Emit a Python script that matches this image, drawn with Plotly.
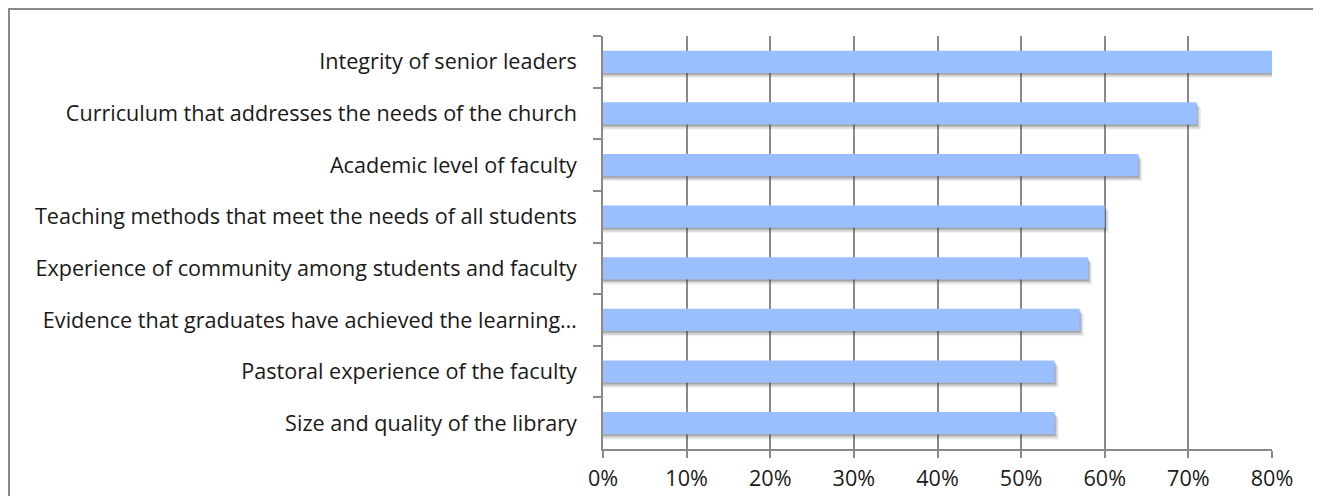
import plotly.graph_objects as go

categories = [
    "Integrity of senior leaders",
    "Curriculum that addresses the needs of the church",
    "Academic level of faculty",
    "Teaching methods that meet the needs of all students",
    "Experience of community among students and faculty",
    "Evidence that graduates have achieved the learning…",
    "Pastoral experience of the faculty",
    "Size and quality of the library",
]
values = [80, 71, 64, 60, 58, 57, 54, 54]
x_ticks = [0, 10, 20, 30, 40, 50, 60, 70, 80]
x_tick_labels = [f"{t}%" for t in x_ticks]

BAR_W = 0.43
GRID = "#8a8a8a"
FONT = "Open Sans"
FS = 21.6

fig = go.Figure()
# soft drop shadow layers
for dx, dy, a in [(0.5, 0.10, 0.08), (0.35, 0.075, 0.12), (0.2, 0.05, 0.16), (0.1, 0.03, 0.2)]:
    fig.add_trace(go.Bar(
        y=categories, x=[v + dx for v in values], orientation="h",
        width=BAR_W, offset=-BAR_W / 2 + dy,
        marker=dict(color=f"rgba(60,60,60,{a})", line=dict(width=0)),
        hoverinfo="skip", showlegend=False,
    ))
fig.add_trace(go.Bar(
    y=categories, x=values, orientation="h",
    width=BAR_W, offset=-BAR_W / 2,
    marker=dict(color="#99bfff", line=dict(width=0)),
    showlegend=False,
))

# the page places the figure at an 8px body offset; keep it inside the window
W, H = 1306, 488
L, R, T, B = 595, 42, 28, 47
pw, ph = W - L - R, H - T - B

def px_x(p):
    return (p - L) / pw

def px_y(p):
    return (H - B - p) / ph

border = dict(color="#8a8a8a", width=2)
fig.update_layout(
    width=W, height=H,
    margin=dict(l=L, r=R, t=T, b=B, pad=0, autoexpand=False),
    paper_bgcolor="white", plot_bgcolor="white",
    barmode="overlay",
    font=dict(family=FONT, size=FS, color="#1a1a1a"),
    xaxis=dict(
        range=[0, 80], tickvals=x_ticks, ticktext=x_tick_labels,
        showgrid=True, gridcolor=GRID, gridwidth=1.5,
        showline=True, linecolor=GRID, linewidth=1.5,
        ticks="outside", ticklen=7, tickcolor=GRID, tickwidth=1.5,
        ticklabelstandoff=2, automargin=False,
        zeroline=False, fixedrange=True,
        tickfont=dict(family=FONT, size=FS, color="#1a1a1a"),
    ),
    yaxis=dict(
        categoryorder="array", categoryarray=categories,
        autorange="reversed", automargin=False,
        showgrid=False, showline=True, linecolor=GRID, linewidth=1.5,
        ticks="outside", ticklen=8, tickcolor=GRID, tickwidth=1.5,
        tickson="boundaries", ticklabelstandoff=20,
        tickfont=dict(family=FONT, size=FS, color="#1a1a1a"),
        zeroline=False, fixedrange=True,
    ),
    shapes=[
        dict(type="line", xref="paper", yref="paper",
             x0=px_x(0), x1=px_x(W - 1), y0=px_y(1), y1=px_y(1),
             line=border, layer="below"),
        dict(type="line", xref="paper", yref="paper",
             x0=px_x(1), x1=px_x(1), y0=px_y(1), y1=px_y(H),
             line=border, layer="below"),
    ],
)

fig.write_html("out.html", config={"displayModeBar": False})
